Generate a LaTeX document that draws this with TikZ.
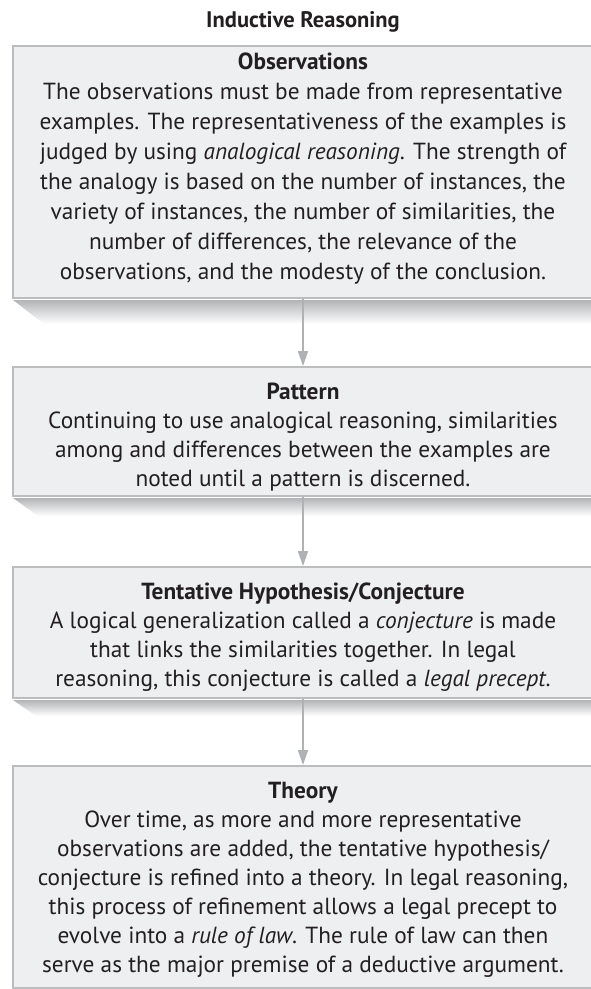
\documentclass[tikz,border=0pt]{standalone}
\usepackage{fontspec}
\setmainfont{PT Sans}
\usetikzlibrary{arrows.meta,calc}
\definecolor{boxfill}{HTML}{EEEFF1}
\definecolor{boxline}{HTML}{BCBDBF}
\definecolor{shadowgray}{HTML}{B3B4B6}
\definecolor{inkdark}{HTML}{231F20}
\definecolor{arrowgray}{HTML}{B0B1B4}
\tikzset{
  stagebox/.style={draw=boxline, line width=2pt, fill=boxfill, rectangle,
    anchor=north west, minimum width=600pt, inner sep=0pt},
  stagetext/.style={anchor=north, inner sep=0pt, align=center, text=inkdark,
    font=\fontsize{23.3}{29}\selectfont},
  titletext/.style={inner sep=0pt, text=inkdark, font=\fontsize{22.5}{26}\selectfont\bfseries},
  flow/.style={draw=arrowgray, line width=1.6pt, -{Triangle[width=10pt,length=15pt]}},
}
% skewed drop shadow under a box
\newcommand{\boxshadow}[3]{%
  \shade[top color=shadowgray, bottom color=white]
    ($(#1.south west)+(1pt,-1pt)$) -- ($(#1.south east)+(0,-1pt)$)
    -- ($(#1.south east)+(0,-#2)$) -- ($(#1.south west)+(#3,-#2)$) -- cycle;}
\begin{document}
\begin{tikzpicture}[x=1pt,y=1pt]
\useasboundingbox (0,0) rectangle (590,-989);
\fill[white] (0,0) rectangle (590,-989);

\node[titletext] (title) at (303,-22) {Inductive Reasoning};

% boxes
\node[stagebox, minimum height=252pt] (obs) at (12,-45) {};
\node[stagebox, minimum height=129pt] (pat) at (12,-366) {};
\node[stagebox, minimum height=131pt] (hyp) at (12,-566) {};
\node[stagebox, minimum height=222pt] (thy) at (12,-765) {};

\boxshadow{obs}{25pt}{32pt}
\boxshadow{pat}{19pt}{26pt}
\boxshadow{hyp}{17pt}{24pt}

% box texts
\node[stagetext, font=\fontsize{23.3}{30}\selectfont] (obst) at (303,-48) {\strut\textbf{Observations}\\
The observations must be made from representative\\
examples. The representativeness of the examples is\\
judged by using \textit{analogical reasoning}. The strength of\\
the analogy is based on the number of instances, the\\
variety of instances, the number of similarities, the\\
number of differences, the relevance of the\\
observations, and the modesty of the conclusion.};

\node[stagetext] (patt) at (303,-379) {\strut\textbf{Pattern}\\
Continuing to use analogical reasoning, similarities\\
among and differences between the examples are\\
noted until a pattern is discerned.};

\node[stagetext] (hypt) at (303,-579) {\strut\textbf{Tentative Hypothesis/Conjecture}\\
A logical generalization called a \textit{conjecture} is made\\
that links the similarities together. In legal\\
reasoning, this conjecture is called a \textit{legal precept}.};

\node[stagetext] (thyt) at (303,-778) {\strut\textbf{Theory}\\
Over time, as more and more representative\\
observations are added, the tentative hypothesis/\\
conjecture is refined into a theory. In legal reasoning,\\
this process of refinement allows a legal precept to\\
evolve into a \textit{rule of law}. The rule of law can then\\
serve as the major premise of a deductive argument.};

% connectors
\draw[flow] (obs.south -| obst.north) -- (pat.north -| obst.north);
\draw[flow] (pat.south -| patt.north) -- (hyp.north -| patt.north);
\draw[flow] (hyp.south -| hypt.north) -- (thy.north -| hypt.north);
\end{tikzpicture}
\end{document}
